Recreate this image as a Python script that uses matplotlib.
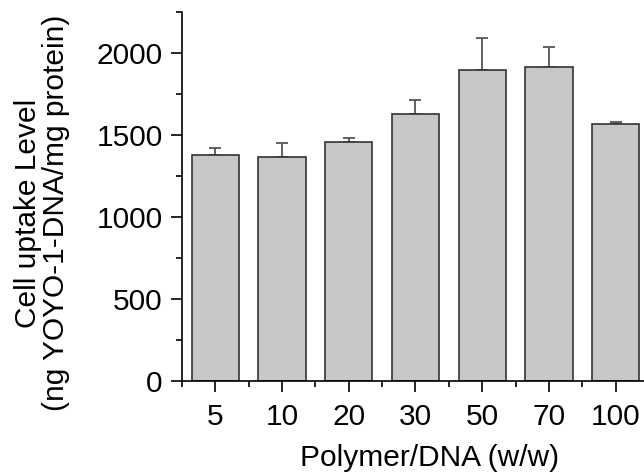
import matplotlib
matplotlib.use('Agg')
import matplotlib.pyplot as plt
from matplotlib.ticker import MultipleLocator

ratios = ['5', '10', '20', '30', '50', '70', '100']
uptake = [1380, 1367, 1460, 1628, 1896, 1915, 1565]
err = [43, 87, 22, 85, 198, 123, 12]

plt.rcParams['font.family'] = ['Liberation Sans', 'DejaVu Sans']

fig = plt.figure(figsize=(6.44, 4.76), dpi=100)
ax = fig.add_axes([182 / 644, 95 / 476, 467 / 644, 369 / 476])

x = range(len(ratios))
ax.bar(x, uptake, width=0.71, color='#c6c7c6', edgecolor='#333333', linewidth=1.2,
       zorder=2)
ax.errorbar(x, uptake, yerr=[[0] * len(err), err], fmt='none', ecolor='#555555',
            elinewidth=1.3, capsize=4, capthick=1.3, zorder=1)

ax.set_xlim(-0.5, 6.5)
ax.set_ylim(0, 2250)
ax.set_xticks(list(x))
ax.set_xticklabels(ratios)
ax.set_xticks([i - 0.5 for i in range(len(ratios) + 1)], minor=True)
ax.yaxis.set_major_locator(MultipleLocator(500))
ax.yaxis.set_minor_locator(MultipleLocator(250))

for s in ['top', 'right']:
    ax.spines[s].set_visible(False)
ax.spines['left'].set_linewidth(1.2)
ax.spines['bottom'].set_linewidth(1.2)

ax.tick_params(which='major', direction='out', length=8, width=1.2, labelsize=21.5)
ax.tick_params(which='minor', direction='out', length=4, width=1.2)
ax.tick_params(axis='y', which='major', pad=6)
ax.tick_params(axis='x', which='major', pad=8)

fig.text(430 / 644, 1 - 458 / 476, 'Polymer/DNA (w/w)', fontsize=21.5,
         ha='center', va='center')
fig.text(42 / 644, 1 - 213 / 476, 'Cell uptake Level\n(ng YOYO-1-DNA/mg protein)',
         fontsize=21.5, rotation=90, ha='center', va='center', linespacing=1.0)

plt.savefig('out.png', dpi=100)
